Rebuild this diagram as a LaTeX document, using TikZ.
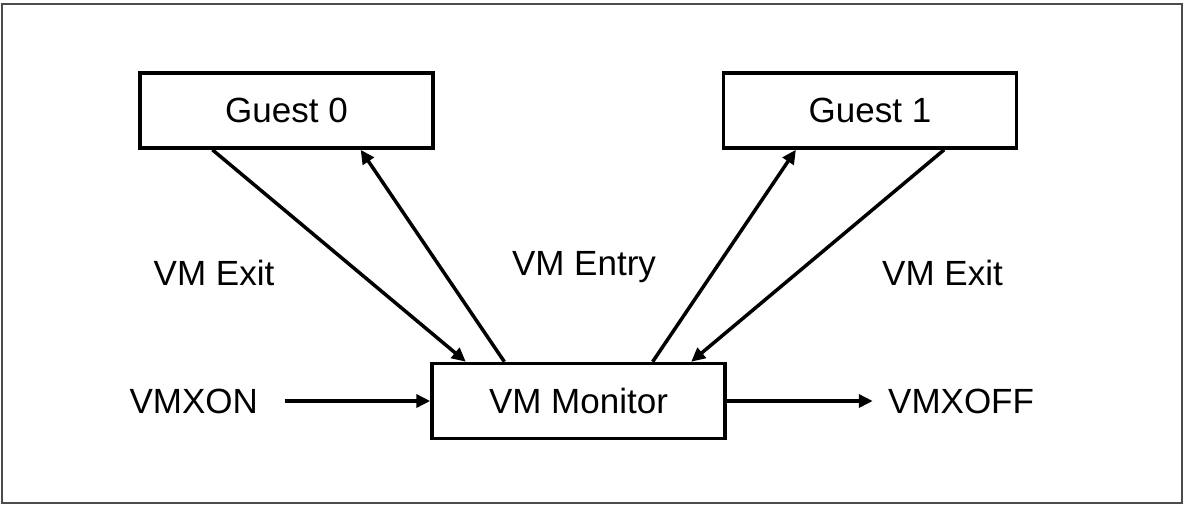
\documentclass[tikz,border=0pt]{standalone}
\usepackage{fontspec}
\setmainfont{Liberation Sans}
\usepackage{tikz}
\usetikzlibrary{arrows.meta,positioning,calc}

\begin{document}
\begin{tikzpicture}[
      x=0.5pt, y=-0.5pt,
      mybox/.style={
         rectangle,
         draw=black,
         line width=1.75pt,
         inner sep=0pt,
         minimum width=146.5pt,
         minimum height=37.5pt,
         font=\fontsize{17.5}{21}\selectfont},
      mylabel/.style={
         inner sep=0pt,
         font=\fontsize{17.5}{21}\selectfont},
      myarrow/.style={-{Triangle[length=7pt,width=6.5pt]}, line width=1.75pt},
      myframe/.style={draw=black!70, line width=0.75pt}
      ]
\useasboundingbox (0,0) rectangle (1184,510);
\draw[myframe] (2,4) rectangle (1182,503);

\node[mybox] (mon) at (578.5,401) {VM Monitor};
\node[mybox] (g0)  at (286.5,110.5) {Guest 0};
\node[mybox] (g1)  at (870,110.5) {Guest 1};

\node[mylabel,left=86pt of mon ] (on)  {VMXON};
\node[mylabel,right=80.5pt of mon] (off) {VMXOFF};

\node[mylabel,anchor=base] (exit0) at (214,285)   {VM Exit};
\node[mylabel,anchor=base] (entry) at (584,275.5) {VM Entry};
\node[mylabel,anchor=base] (exit1) at (942.5,285) {VM Exit};

\draw[myarrow,shorten <=13.5pt] (on) -- (mon);
\draw[myarrow,shorten >=7.5pt] (mon) -- (off);

\foreach \g/\a/\m in {% guest/guest port/monitor port
      g0/.25/.12, g1/.75/.88}
   \draw[myarrow] ($(\g.south west)!\a!(\g.south east)$) -- ($(mon.north west)!\m!(mon.north east)$);
\foreach \g/\a/\m in {%
      g0/.75/.25, g1/.25/.75}
   \draw[myarrow] ($(mon.north west)!\m!(mon.north east)$) -- ($(\g.south west)!\a!(\g.south east)$);

\end{tikzpicture}
\end{document}
